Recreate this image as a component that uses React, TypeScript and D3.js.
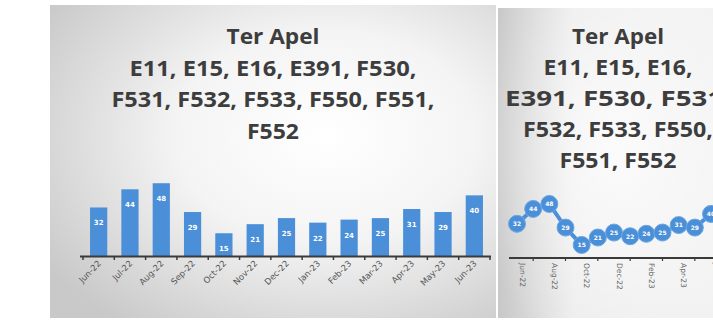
import React from "react";
import * as d3 from "d3";

const months = ["Jun-22","Jul-22","Aug-22","Sep-22","Oct-22","Nov-22","Dec-22","Jan-23","Feb-23","Mar-23","Apr-23","May-23","Jun-23"];
const counts = [32, 44, 48, 29, 15, 21, 25, 22, 24, 25, 31, 29, 40];
const leftTitle = ["Ter Apel", "E11, E15, E16, E391, F530,", "F531, F532, F533, F550, F551,", "F552"];
const rightTitle = ["Ter Apel", "E11, E15, E16,", "E391, F530, F531,", "F532, F533, F550,", "F551, F552"];
const rightTickMonths = ["Jun-22","Aug-22","Oct-22","Dec-22","Feb-23","Apr-23","Jun-23"];

const BLUE = "#4a8fd7";
const TITLE_FONT = "'Open Sans', 'DejaVu Sans', sans-serif";

export default function App() {
  const xL = d3.scaleBand<string>().domain(months).range([83, 490]).paddingInner(0.45).paddingOuter(0.225);
  const yL = d3.scaleLinear().domain([0, 50]).range([256, 180.2]);
  const stepL = xL.step();
  const startL = 83;

  const xR = d3.scalePoint<string>().domain(months).range([517, 711]);
  const yR = d3.scaleLinear().domain([0, 50]).range([263.6, 201.5]);
  const line = d3.line<number>().x((_, i) => xR(months[i]) as number).y((d) => yR(d)).curve(d3.curveLinear);

  const leftWidths = [93, 287, 323, 52];
  const rightWidths = [92, 149, 226, 190, 117];

  return (
    <svg width={713} height={320} style={{ position: "absolute", left: 0, top: 0 }}>
      <defs>
        <radialGradient id="bgL" cx="0.62" cy="0.42" r="0.75">
          <stop offset="0" stopColor="#ffffff" />
          <stop offset="0.45" stopColor="#f4f4f4" />
          <stop offset="1" stopColor="#c9c9c9" />
        </radialGradient>
        <linearGradient id="bgR" x1="0" x2="1" y1="0" y2="0">
          <stop offset="0" stopColor="#c8c8c8" />
          <stop offset="0.35" stopColor="#ececec" />
          <stop offset="1" stopColor="#f2f2f2" />
        </linearGradient>
        <radialGradient id="bgR2" cx="0.55" cy="0.45" r="0.7">
          <stop offset="0" stopColor="#ffffff" stopOpacity="0.8" />
          <stop offset="1" stopColor="#ffffff" stopOpacity="0" />
        </radialGradient>
      </defs>
      <rect x={0} y={0} width={713} height={320} fill="#ffffff" />

      {/* Left panel */}
      <rect x={50} y={5} width={446} height={313} fill="url(#bgL)" />
      <g fontFamily={TITLE_FONT} fontWeight="bold" fontSize={21} fill="#3d3d3d" textAnchor="middle">
        {leftTitle.map((t, i) => (
          <text key={i} x={273} y={44 + i * 31.5} textLength={leftWidths[i]} lengthAdjust="spacingAndGlyphs">{t}</text>
        ))}
      </g>
      {counts.map((v, i) => (
        <g key={months[i]}>
          <rect x={xL(months[i])} y={yL(v)} width={xL.bandwidth()} height={yL(0) - yL(v)} fill={BLUE} />
          <text x={(xL(months[i]) as number) + xL.bandwidth() / 2} y={yL(v) + 18} textAnchor="middle" fontSize={7} fontWeight="bold" fill="#ffffff" fontFamily="'DejaVu Sans', sans-serif">{v}</text>
        </g>
      ))}
      <line x1={80} x2={491} y1={256.5} y2={256.5} stroke="#3a3a3a" strokeWidth={2} />
      {d3.range(months.length + 1).map((i) => (
        <line key={i} x1={startL + i * stepL} x2={startL + i * stepL} y1={256} y2={260} stroke="#3a3a3a" strokeWidth={1.5} />
      ))}
      {months.map((m) => {
        const cx = (xL(m) as number) + xL.bandwidth() / 2 + 3;
        return (
          <text key={m} transform={`translate(${cx},264) rotate(-45)`} textAnchor="end" fontSize={8.5} fill="#555555" fontFamily="'DejaVu Sans', sans-serif">{m}</text>
        );
      })}

      {/* Right panel */}
      <rect x={498} y={8} width={215} height={310} fill="url(#bgR)" />
      <rect x={498} y={8} width={215} height={310} fill="url(#bgR2)" />
      <g fontFamily={TITLE_FONT} fontWeight="bold" fontSize={21} fill="#3d3d3d" textAnchor="middle">
        {rightTitle.map((t, i) => (
          <text key={i} x={618} y={44 + i * 31} textLength={rightWidths[i]} lengthAdjust="spacingAndGlyphs">{t}</text>
        ))}
      </g>
      <line x1={509} x2={713} y1={258} y2={258} stroke="#3a3a3a" strokeWidth={2} />
      {d3.range(6).map((i) => {
        const x = ((xR(months[i * 2]) as number) + (xR(months[i * 2 + 2]) as number)) / 2;
        return <line key={i} x1={x} x2={x} y1={257} y2={261} stroke="#3a3a3a" strokeWidth={1.2} />;
      })}
      <path d={line(counts) || ""} fill="none" stroke={BLUE} strokeWidth={4} />
      {counts.map((v, i) => (
        <g key={"p" + i}>
          <circle cx={xR(months[i])} cy={yR(v)} r={8.5} fill={BLUE} stroke="#6aa8e4" strokeWidth={1} />
          <text x={xR(months[i])} y={yR(v) + 2.3} textAnchor="middle" fontSize={6} fontWeight="bold" fill="#ffffff" fontFamily="'DejaVu Sans', sans-serif">{v}</text>
        </g>
      ))}
      {rightTickMonths.map((m) => (
        <text key={m} transform={`translate(${(xR(m) as number) + 2.5},263) rotate(90)`} textAnchor="start" fontSize={7.5} fill="#666666" fontFamily="'DejaVu Sans', sans-serif">{m}</text>
      ))}
    </svg>
  );
}
